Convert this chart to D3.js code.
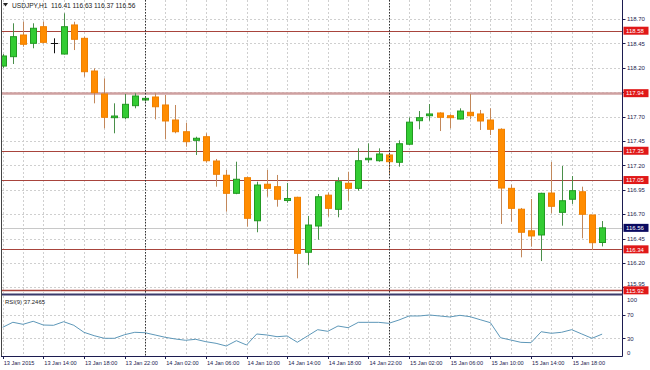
<!DOCTYPE html>
<html><head><meta charset="utf-8">
<script src="https://cdn.jsdelivr.net/npm/d3@7"></script>
<style>html,body{margin:0;padding:0;background:#fff;}svg{display:block;}</style>
</head><body>
<svg id="chart" width="650" height="370"></svg>
<script>
// ---- data (USDJPY H1, 13 Jan 10:00 .. 15 Jan 21:00) ----
const symbolTitle = "USDJPY,H1  116.41 116.63 116.37 116.56";
const rsiTitle = "RSI(9) 37.2465";
const open  = [118.218,118.314,118.536,118.451,118.621,118.452,118.341,118.639,118.502,118.167,117.932,117.689,117.689,117.812,117.870,117.901,117.819,117.665,117.545,117.457,117.494,117.245,117.099,116.914,117.074,116.633,117.007,116.982,116.840,116.873,116.310,116.579,116.895,116.750,117.017,116.965,117.258,117.248,117.307,117.232,117.417,117.658,117.709,117.737,117.709,117.675,117.744,117.727,117.665,117.570,116.965,116.751,116.530,116.487,116.917,116.719,116.853,116.930,116.692,116.41];
const high  = [118.341,118.656,118.672,118.656,118.672,118.502,118.758,118.672,118.519,118.195,118.092,117.836,117.932,117.939,117.911,117.939,117.921,117.819,117.638,117.494,117.529,117.266,117.153,117.238,117.084,117.033,117.153,117.102,117.020,116.879,116.682,116.907,116.922,117.078,117.135,117.375,117.426,117.375,117.322,117.457,117.691,117.757,117.829,117.744,117.724,117.785,117.932,117.768,117.785,117.580,117.004,116.764,116.856,116.920,117.235,117.194,117.091,116.982,116.692,116.63];
const low   = [118.198,118.239,118.416,118.400,118.451,118.349,118.336,118.382,118.109,117.836,117.580,117.529,117.672,117.785,117.853,117.672,117.467,117.529,117.392,117.307,117.228,116.982,116.726,116.905,116.572,116.515,116.879,116.777,116.818,116.043,116.180,116.439,116.674,116.668,116.838,116.941,117.228,117.238,117.112,117.187,117.409,117.570,117.658,117.552,117.580,117.670,117.672,117.563,117.511,116.600,116.623,116.258,116.367,116.220,116.709,116.582,116.805,116.453,116.333,116.37];
const close = [118.321,118.519,118.441,118.605,118.461,118.452,118.621,118.492,118.160,117.945,117.693,117.706,117.826,117.911,117.887,117.801,117.655,117.545,117.443,117.478,117.248,117.109,116.914,117.058,116.658,116.999,116.965,116.853,116.861,116.299,116.589,116.879,116.760,117.033,116.965,117.248,117.273,117.317,117.238,117.422,117.643,117.689,117.727,117.693,117.689,117.757,117.709,117.655,117.570,116.968,116.760,116.515,116.477,116.914,116.781,116.838,116.941,116.699,116.408,116.56];
const rsi   = [48.9,57.5,54.0,59.2,52.8,52.3,58.5,52.3,40.3,34.5,30.0,30.0,36.2,40.3,39.6,35.7,31.7,28.8,26.6,28.3,24.2,21.4,16.8,25.9,18.5,37.4,35.7,32.8,34.0,23.2,34.0,44.8,42.0,51.1,48.2,57.4,57.4,57.4,55.7,61.4,68.3,68.3,70.0,68.3,66.6,69.4,67.1,61.9,56.8,31.0,27.1,23.1,22.5,41.3,38.6,40.3,44.8,37.4,30.0,37.2];
const xTickIdx    = [0,4,8,12,16,20,24,28,32,36,40,44,48,52,56];
const xTickLabels = ["13 Jan 2015","13 Jan 14:00","13 Jan 18:00","13 Jan 22:00","14 Jan 02:00","14 Jan 06:00","14 Jan 10:00","14 Jan 14:00","14 Jan 18:00","14 Jan 22:00","15 Jan 02:00","15 Jan 06:00","15 Jan 10:00","15 Jan 14:00","15 Jan 18:00"];
const separatorIdx = [14,38];
const priceTicks = [118.70,118.45,118.20,117.95,117.70,117.45,117.20,116.95,116.70,116.45,116.20,115.95];
const levels = [118.58,117.94,117.35,117.05,116.34,115.92];
const bidPrice = 116.56;
const rsiTicks = [100,70,30,0];
const rsiGrid = [70,30];

// ---- layout ----
const svg = d3.select("#chart");
const L = 2, R = 622.5;
const mainTop = 0, mainBot = 293;
const rsiTop = 296, rsiBot = 356;
const n = close.length;
const x = d3.scaleLinear().domain([0, n - 1]).range([2.7, 2.7 + 10.16 * (n - 1)]);
const y = d3.scaleLinear().domain([118.70, 115.95]).range([19, 287.4]);
const yr = d3.scaleLinear().domain([0, 100]).range([355.8, 297.5]);
const font = "'Liberation Sans', Arial, sans-serif";
const axisCol = "#1c1c50";

const defs = svg.append("defs");
defs.append("clipPath").attr("id","cm").append("rect").attr("x",L).attr("y",mainTop).attr("width",R-L).attr("height",mainBot-mainTop);
defs.append("clipPath").attr("id","cr").append("rect").attr("x",L).attr("y",rsiTop).attr("width",R-L).attr("height",rsiBot-rsiTop);

const gMain = svg.append("g").attr("clip-path","url(#cm)");
const gRsi = svg.append("g").attr("clip-path","url(#cr)");
const snap = v => Math.round(v) + 0.5;

// grid (vertical every 2 bars)
const vIdx = d3.range(0, n, 2);
[ [gMain, mainTop, mainBot], [gRsi, rsiTop, rsiBot] ].forEach(([g, t, b]) => {
  g.selectAll(null).data(vIdx).join("line")
    .attr("x1", d => snap(x(d))).attr("x2", d => snap(x(d)))
    .attr("y1", t).attr("y2", b)
    .attr("stroke", "#cfcfcf").attr("stroke-width", 1).attr("stroke-dasharray", "2,2");
});
gMain.selectAll(null).data(priceTicks).join("line")
  .attr("x1", L).attr("x2", R).attr("y1", d => snap(y(d))).attr("y2", d => snap(y(d)))
  .attr("stroke", "#cfcfcf").attr("stroke-dasharray", "2,2");
gRsi.selectAll(null).data(rsiGrid).join("line")
  .attr("x1", L).attr("x2", R).attr("y1", d => snap(yr(d))).attr("y2", d => snap(yr(d)))
  .attr("stroke", "#cfcfcf").attr("stroke-dasharray", "2,2");

// bid line
gMain.append("line").attr("x1", L).attr("x2", R).attr("y1", snap(y(bidPrice))).attr("y2", snap(y(bidPrice)))
  .attr("stroke", "#c8c8c8");

// level lines
gMain.selectAll(null).data(levels).join("line")
  .attr("x1", L).attr("x2", R)
  .attr("y1", d => snap(y(d))).attr("y2", d => snap(y(d)))
  .attr("stroke", d => d === 117.94 ? "#cfa0a0" : "#a8443c")
  .attr("stroke-width", d => d === 117.94 ? 2.5 : (d === 115.92 ? 1.5 : 1));

// candles
const idx = d3.range(n);
const bull = i => close[i] > open[i];
const doji = i => close[i] === open[i];
gMain.selectAll(null).data(idx).join("line")
  .attr("x1", i => snap(x(i))).attr("x2", i => snap(x(i)))
  .attr("y1", i => y(high[i])).attr("y2", i => y(low[i]))
  .attr("stroke", i => doji(i) ? "#111" : (bull(i) ? "#4a8f4a" : "#c2875a"));
gMain.selectAll(null).data(idx.filter(i => !doji(i))).join("rect")
  .attr("x", i => Math.round(x(i)) - 2.5)
  .attr("width", 6)
  .attr("y", i => Math.min(y(open[i]), y(close[i])))
  .attr("height", i => Math.max(1, Math.abs(y(open[i]) - y(close[i]))))
  .attr("fill", i => bull(i) ? "#33cc33" : "#ff8c00")
  .attr("stroke", i => bull(i) ? "#229922" : "#f08000")
  .attr("stroke-width", 1);
gMain.selectAll(null).data(idx.filter(doji)).join("line")
  .attr("x1", i => Math.round(x(i)) - 3).attr("x2", i => Math.round(x(i)) + 4)
  .attr("y1", i => snap(y(open[i]))).attr("y2", i => snap(y(open[i])))
  .attr("stroke", "#111");

// RSI line
gRsi.append("path").datum(rsi)
  .attr("d", d3.line().x((d, i) => x(i)).y(d => yr(d)))
  .attr("fill", "none").attr("stroke", "#5d97b8").attr("stroke-width", 1);

// period separators
svg.selectAll(null).data(separatorIdx).join("line")
  .attr("x1", d => snap(x(d))).attr("x2", d => snap(x(d)))
  .attr("y1", mainTop).attr("y2", rsiBot)
  .attr("stroke", "#333").attr("stroke-dasharray", "1.5,1.5");

// frame
svg.append("line").attr("x1", 1.5).attr("x2", 1.5).attr("y1", 0).attr("y2", rsiBot).attr("stroke", "#444");
svg.append("line").attr("x1", R).attr("x2", R).attr("y1", 0).attr("y2", rsiBot + 0.5).attr("stroke", axisCol);
svg.append("rect").attr("x", L).attr("y", 293.5).attr("width", R - L).attr("height", 2).attr("fill", "#3a3a6a");
svg.append("line").attr("x1", 1).attr("x2", R).attr("y1", rsiBot + 0.5).attr("y2", rsiBot + 0.5).attr("stroke", axisCol);

// price axis
const pa = svg.append("g");
pa.selectAll(null).data(priceTicks).join("line")
  .attr("x1", R).attr("x2", R + 3).attr("y1", d => snap(y(d))).attr("y2", d => snap(y(d))).attr("stroke", axisCol);
pa.selectAll(null).data(priceTicks.filter(d => d !== 117.95)).join("text")
  .attr("x", R + 4.5).attr("y", d => d === 115.95 ? y(d) - 1.8 : y(d) + 2.2)
  .attr("font-family", font).attr("font-size", 6).attr("fill", axisCol)
  .text(d => d.toFixed(2));

// level labels
const lab = svg.append("g");
const allLabels = levels.map(v => ({v, c: "#e01818"})).concat([{v: bidPrice, c: "#0a0a60"}]);
lab.selectAll(null).data(allLabels).join("rect")
  .attr("x", R + 1).attr("y", d => y(d.v) - 4).attr("width", 25).attr("height", 8).attr("fill", d => d.c);
lab.selectAll(null).data(allLabels).join("text")
  .attr("x", R + 3.5).attr("y", d => y(d.v) + 2.2)
  .attr("font-family", font).attr("font-size", 6).attr("fill", "#fff")
  .text(d => d.v.toFixed(2));

// RSI axis
svg.selectAll(null).data(rsiTicks).join("text")
  .attr("x", R + 4.5).attr("y", d => Math.min(Math.max(yr(d) + 2.2, 302), 355))
  .attr("font-family", font).attr("font-size", 6).attr("fill", axisCol)
  .text(d => d);
svg.selectAll(null).data(rsiGrid).join("line")
  .attr("x1", R).attr("x2", R + 3).attr("y1", d => snap(yr(d))).attr("y2", d => snap(yr(d))).attr("stroke", axisCol);

// time axis
const ta = svg.append("g");
ta.selectAll(null).data(xTickIdx).join("line")
  .attr("x1", d => snap(x(d))).attr("x2", d => snap(x(d)))
  .attr("y1", rsiBot).attr("y2", rsiBot + 3).attr("stroke", axisCol);
ta.selectAll(null).data(xTickIdx).join("text")
  .attr("x", d => Math.max(x(d) + 1, 3)).attr("y", 365)
  .attr("font-family", font).attr("font-size", 5.6).attr("fill", axisCol)
  .text((d, k) => xTickLabels[k]);

// titles
svg.append("path").attr("d", "M3,3 L8,3 L5.5,6.5 Z").attr("fill", "#222");
svg.append("text").attr("x", 12).attr("y", 8).attr("font-family", font).attr("font-size", 6.6)
  .attr("fill", "#222").attr("xml:space", "preserve").text(symbolTitle);
svg.append("text").attr("x", 5).attr("y", 303.5).attr("font-family", font).attr("font-size", 5.9)
  .attr("fill", "#222").text(rsiTitle);
</script>
</body></html>
